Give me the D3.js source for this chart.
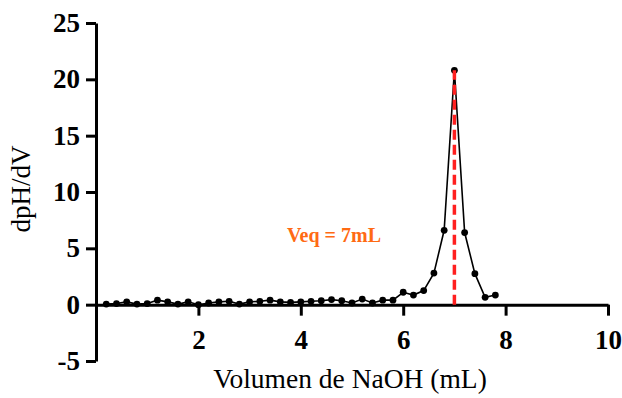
<!DOCTYPE html>
<html>
<head>
<meta charset="utf-8">
<script src="https://cdn.jsdelivr.net/npm/d3@7"></script>
<style>
  html, body { margin: 0; padding: 0; background: #fff; }
  svg { display: block; }
  .tick text { font-family: "Liberation Serif", "Times New Roman", serif; font-weight: bold; }
</style>
</head>
<body>
<svg id="chart" width="622" height="398"></svg>
<script>
// Titration derivative curve: volume of NaOH added (mL) vs dpH/dV
const volume = [0.2, 0.4, 0.6, 0.8, 1.0, 1.2, 1.4, 1.6, 1.8, 2.0,
                2.2, 2.4, 2.6, 2.8, 3.0, 3.2, 3.4, 3.6, 3.8, 4.0,
                4.2, 4.4, 4.6, 4.8, 5.0, 5.2, 5.4, 5.6, 5.8, 6.0,
                6.2, 6.4, 6.6, 6.8, 7.0, 7.2, 7.4, 7.6, 7.8];
const dpHdV = [0.05, 0.1, 0.25, 0.05, 0.1, 0.4, 0.25, 0.05, 0.25, 0.0,
               0.15, 0.25, 0.3, 0.05, 0.25, 0.3, 0.4, 0.25, 0.2, 0.25,
               0.3, 0.35, 0.45, 0.35, 0.15, 0.5, 0.15, 0.4, 0.4, 1.1,
               0.85, 1.25, 2.8, 6.6, 20.8, 6.4, 2.75, 0.65, 0.85];
const xTicks = [2, 4, 6, 8, 10];
const yTicks = [-5, 0, 5, 10, 15, 20, 25];
const veq = 7;
const veqLabel = "Veq = 7mL";
const xTitle = "Volumen de NaOH (mL)";
const yTitle = "dpH/dV";

const svg = d3.select("#chart");
const serif = '"Liberation Serif", "Times New Roman", serif';
const plain = d => String(d);

const x = d3.scaleLinear().domain([0, 10]).range([96, 608]);
const y = d3.scaleLinear().domain([-5, 25]).range([361, 23]);

// Y axis
const yAxis = svg.append("g")
  .attr("transform", `translate(${x(0)},0)`)
  .call(d3.axisLeft(y).tickValues(yTicks).tickFormat(plain)
    .tickSize(10).tickPadding(6).tickSizeOuter(0));
yAxis.select(".domain").attr("stroke", "#000").attr("stroke-width", 3);
yAxis.selectAll(".tick line").attr("stroke", "#000").attr("stroke-width", 3);
yAxis.selectAll(".tick text").attr("font-size", 27).attr("fill", "#000");

// X axis drawn along y = 0
const xAxis = svg.append("g")
  .attr("transform", `translate(0,${y(0)})`)
  .call(d3.axisBottom(x).tickValues(xTicks).tickFormat(plain)
    .tickSize(11).tickPadding(14).tickSizeOuter(0));
xAxis.select(".domain").attr("stroke", "#000").attr("stroke-width", 3);
xAxis.selectAll(".tick line").attr("stroke", "#000").attr("stroke-width", 3);
xAxis.selectAll(".tick text").attr("font-size", 27).attr("fill", "#000");

// Data line and markers
const pts = volume.map((v, i) => [v, dpHdV[i]]);
svg.append("path")
  .datum(pts)
  .attr("fill", "none")
  .attr("stroke", "#000")
  .attr("stroke-width", 1.6)
  .attr("d", d3.line().x(d => x(d[0])).y(d => y(d[1])));

svg.append("g").selectAll("circle")
  .data(pts)
  .join("circle")
  .attr("cx", d => x(d[0]))
  .attr("cy", d => y(d[1]))
  .attr("r", 3.4)
  .attr("fill", "#000");

// Equivalence point marker
const peak = dpHdV[volume.indexOf(veq)];
svg.append("line")
  .attr("x1", x(veq)).attr("x2", x(veq))
  .attr("y1", y(0)).attr("y2", y(peak))
  .attr("stroke", "#ff1f1f")
  .attr("stroke-width", 3.5)
  .attr("stroke-dasharray", "10,5");

svg.append("text")
  .attr("x", 334).attr("y", 242)
  .attr("text-anchor", "middle")
  .attr("font-family", serif)
  .attr("font-weight", "bold")
  .attr("font-size", 20)
  .attr("fill", "#ff6a13")
  .text(veqLabel);

// Axis titles
svg.append("text")
  .attr("x", 350).attr("y", 388)
  .attr("text-anchor", "middle")
  .attr("font-family", serif)
  .attr("font-size", 27.5)
  .attr("fill", "#000")
  .text(xTitle);

svg.append("text")
  .attr("transform", "translate(30,189) rotate(-90)")
  .attr("text-anchor", "middle")
  .attr("font-family", serif)
  .attr("font-size", 27)
  .attr("fill", "#000")
  .text(yTitle);
</script>
</body>
</html>
